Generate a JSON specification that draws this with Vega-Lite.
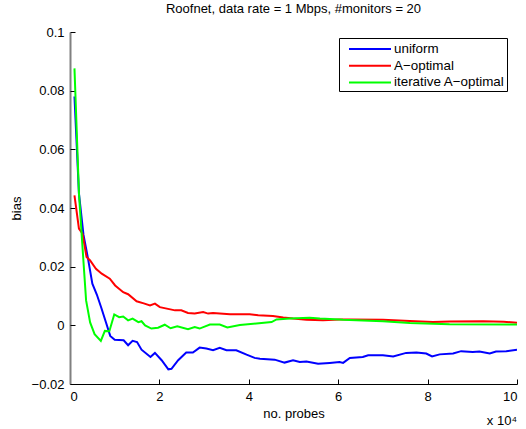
{
  "$schema": "https://vega.github.io/schema/vega-lite/v6.json",
  "autosize": {"type": "none"},
  "padding": {"left": 70, "top": 32, "right": 9, "bottom": 45},
  "width": 447,
  "height": 352,
  "background": "white",
  "title": {"text": "Roofnet, data rate = 1 Mbps, #monitors = 20", "fontSize": 13, "fontWeight": "normal", "font": "Liberation Sans", "color": "black", "offset": 10},
  "config": {
    "view": {"stroke": null},
    "font": "Liberation Sans",
    "axis": {"grid": false, "labelFont": "Liberation Sans", "titleFont": "Liberation Sans", "labelFontSize": 13, "titleFontSize": 13, "titleFontWeight": "normal", "labelColor": "black", "titleColor": "black", "tickColor": "black"}
  },
  "resolve": {"axis": {"x": "independent", "y": "independent"}},
  "datasets": {
    "series": [
      {"method": "uniform", "x": 0.1, "y": 0.078},
      {"method": "uniform", "x": 0.2, "y": 0.045},
      {"method": "uniform", "x": 0.3, "y": 0.031},
      {"method": "uniform", "x": 0.4, "y": 0.023},
      {"method": "uniform", "x": 0.5, "y": 0.0142},
      {"method": "uniform", "x": 0.6, "y": 0.0105},
      {"method": "uniform", "x": 0.7, "y": 0.006},
      {"method": "uniform", "x": 0.8, "y": 0.0012},
      {"method": "uniform", "x": 0.9, "y": -0.0036},
      {"method": "uniform", "x": 1.0, "y": -0.0049},
      {"method": "uniform", "x": 1.2, "y": -0.0051},
      {"method": "uniform", "x": 1.3, "y": -0.0068},
      {"method": "uniform", "x": 1.4, "y": -0.0053},
      {"method": "uniform", "x": 1.5, "y": -0.0057},
      {"method": "uniform", "x": 1.6, "y": -0.0083},
      {"method": "uniform", "x": 1.8, "y": -0.0108},
      {"method": "uniform", "x": 1.9, "y": -0.0094},
      {"method": "uniform", "x": 2.05, "y": -0.0119},
      {"method": "uniform", "x": 2.2, "y": -0.015},
      {"method": "uniform", "x": 2.27, "y": -0.0148},
      {"method": "uniform", "x": 2.42, "y": -0.0119},
      {"method": "uniform", "x": 2.6, "y": -0.0093},
      {"method": "uniform", "x": 2.75, "y": -0.0093},
      {"method": "uniform", "x": 2.9, "y": -0.0076},
      {"method": "uniform", "x": 3.05, "y": -0.0079},
      {"method": "uniform", "x": 3.2, "y": -0.0085},
      {"method": "uniform", "x": 3.35, "y": -0.0077},
      {"method": "uniform", "x": 3.5, "y": -0.0085},
      {"method": "uniform", "x": 3.72, "y": -0.0085},
      {"method": "uniform", "x": 3.95, "y": -0.01},
      {"method": "uniform", "x": 4.13, "y": -0.0111},
      {"method": "uniform", "x": 4.25, "y": -0.0114},
      {"method": "uniform", "x": 4.58, "y": -0.0117},
      {"method": "uniform", "x": 4.8, "y": -0.0127},
      {"method": "uniform", "x": 4.99, "y": -0.0119},
      {"method": "uniform", "x": 5.14, "y": -0.0125},
      {"method": "uniform", "x": 5.29, "y": -0.0123},
      {"method": "uniform", "x": 5.55, "y": -0.0131},
      {"method": "uniform", "x": 5.81, "y": -0.0128},
      {"method": "uniform", "x": 6.03, "y": -0.0125},
      {"method": "uniform", "x": 6.11, "y": -0.0128},
      {"method": "uniform", "x": 6.26, "y": -0.0111},
      {"method": "uniform", "x": 6.55, "y": -0.0108},
      {"method": "uniform", "x": 6.67, "y": -0.0102},
      {"method": "uniform", "x": 7.0, "y": -0.0102},
      {"method": "uniform", "x": 7.23, "y": -0.0106},
      {"method": "uniform", "x": 7.52, "y": -0.0094},
      {"method": "uniform", "x": 7.75, "y": -0.0093},
      {"method": "uniform", "x": 7.97, "y": -0.0096},
      {"method": "uniform", "x": 8.1, "y": -0.0106},
      {"method": "uniform", "x": 8.27, "y": -0.0099},
      {"method": "uniform", "x": 8.57, "y": -0.0096},
      {"method": "uniform", "x": 8.75, "y": -0.0088},
      {"method": "uniform", "x": 9.01, "y": -0.0091},
      {"method": "uniform", "x": 9.16, "y": -0.0089},
      {"method": "uniform", "x": 9.39, "y": -0.0096},
      {"method": "uniform", "x": 9.53, "y": -0.0089},
      {"method": "uniform", "x": 9.76, "y": -0.0088},
      {"method": "uniform", "x": 10.0, "y": -0.0083},
      {"method": "A−optimal", "x": 0.1, "y": 0.0443},
      {"method": "A−optimal", "x": 0.2, "y": 0.033},
      {"method": "A−optimal", "x": 0.28, "y": 0.0312},
      {"method": "A−optimal", "x": 0.37, "y": 0.0233},
      {"method": "A−optimal", "x": 0.45, "y": 0.0221},
      {"method": "A−optimal", "x": 0.58, "y": 0.0193},
      {"method": "A−optimal", "x": 0.71, "y": 0.0176},
      {"method": "A−optimal", "x": 0.89, "y": 0.0159},
      {"method": "A−optimal", "x": 1.01, "y": 0.0136},
      {"method": "A−optimal", "x": 1.19, "y": 0.0113},
      {"method": "A−optimal", "x": 1.3, "y": 0.0106},
      {"method": "A−optimal", "x": 1.49, "y": 0.0082},
      {"method": "A−optimal", "x": 1.65, "y": 0.0075},
      {"method": "A−optimal", "x": 1.79, "y": 0.0068},
      {"method": "A−optimal", "x": 1.9, "y": 0.0074},
      {"method": "A−optimal", "x": 2.01, "y": 0.0062},
      {"method": "A−optimal", "x": 2.35, "y": 0.0051},
      {"method": "A−optimal", "x": 2.49, "y": 0.0051},
      {"method": "A−optimal", "x": 2.64, "y": 0.0042},
      {"method": "A−optimal", "x": 2.79, "y": 0.004},
      {"method": "A−optimal", "x": 2.98, "y": 0.0045},
      {"method": "A−optimal", "x": 3.09, "y": 0.004},
      {"method": "A−optimal", "x": 3.2, "y": 0.0042},
      {"method": "A−optimal", "x": 3.58, "y": 0.0038},
      {"method": "A−optimal", "x": 4.02, "y": 0.0038},
      {"method": "A−optimal", "x": 4.21, "y": 0.0034},
      {"method": "A−optimal", "x": 4.54, "y": 0.0032},
      {"method": "A−optimal", "x": 4.77, "y": 0.0027},
      {"method": "A−optimal", "x": 4.99, "y": 0.0023},
      {"method": "A−optimal", "x": 5.29, "y": 0.0019},
      {"method": "A−optimal", "x": 5.66, "y": 0.0017},
      {"method": "A−optimal", "x": 6.03, "y": 0.002},
      {"method": "A−optimal", "x": 6.26, "y": 0.002},
      {"method": "A−optimal", "x": 7.0, "y": 0.0019},
      {"method": "A−optimal", "x": 7.6, "y": 0.0015},
      {"method": "A−optimal", "x": 8.12, "y": 0.0011},
      {"method": "A−optimal", "x": 8.5, "y": 0.0013},
      {"method": "A−optimal", "x": 9.24, "y": 0.0014},
      {"method": "A−optimal", "x": 9.7, "y": 0.0012},
      {"method": "A−optimal", "x": 10.0, "y": 0.0009},
      {"method": "iterative A−optimal", "x": 0.1, "y": 0.0876},
      {"method": "iterative A−optimal", "x": 0.2, "y": 0.045},
      {"method": "iterative A−optimal", "x": 0.3, "y": 0.022},
      {"method": "iterative A−optimal", "x": 0.36, "y": 0.0085},
      {"method": "iterative A−optimal", "x": 0.45, "y": 0.001},
      {"method": "iterative A−optimal", "x": 0.55, "y": -0.003},
      {"method": "iterative A−optimal", "x": 0.69, "y": -0.0053},
      {"method": "iterative A−optimal", "x": 0.78, "y": -0.0019},
      {"method": "iterative A−optimal", "x": 0.88, "y": -0.002},
      {"method": "iterative A−optimal", "x": 0.99, "y": 0.0037},
      {"method": "iterative A−optimal", "x": 1.1, "y": 0.0028},
      {"method": "iterative A−optimal", "x": 1.19, "y": 0.003},
      {"method": "iterative A−optimal", "x": 1.3, "y": 0.0017},
      {"method": "iterative A−optimal", "x": 1.4, "y": 0.0023},
      {"method": "iterative A−optimal", "x": 1.53, "y": 0.0011},
      {"method": "iterative A−optimal", "x": 1.6, "y": 0.0014},
      {"method": "iterative A−optimal", "x": 1.68, "y": 0.0},
      {"method": "iterative A−optimal", "x": 1.82, "y": -0.0011},
      {"method": "iterative A−optimal", "x": 1.97, "y": -0.0008},
      {"method": "iterative A−optimal", "x": 2.12, "y": 0.0002},
      {"method": "iterative A−optimal", "x": 2.25, "y": -0.001},
      {"method": "iterative A−optimal", "x": 2.4, "y": -0.0003},
      {"method": "iterative A−optimal", "x": 2.64, "y": -0.0013},
      {"method": "iterative A−optimal", "x": 2.79, "y": -0.0006},
      {"method": "iterative A−optimal", "x": 2.9, "y": -0.0011},
      {"method": "iterative A−optimal", "x": 3.13, "y": 0.0003},
      {"method": "iterative A−optimal", "x": 3.35, "y": 0.0003},
      {"method": "iterative A−optimal", "x": 3.52, "y": -0.0007},
      {"method": "iterative A−optimal", "x": 3.8, "y": 0.0001},
      {"method": "iterative A−optimal", "x": 4.17, "y": 0.0006},
      {"method": "iterative A−optimal", "x": 4.51, "y": 0.0011},
      {"method": "iterative A−optimal", "x": 4.62, "y": 0.002},
      {"method": "iterative A−optimal", "x": 4.92, "y": 0.0023},
      {"method": "iterative A−optimal", "x": 5.36, "y": 0.0026},
      {"method": "iterative A−optimal", "x": 5.59, "y": 0.0023},
      {"method": "iterative A−optimal", "x": 6.03, "y": 0.002},
      {"method": "iterative A−optimal", "x": 6.11, "y": 0.0019},
      {"method": "iterative A−optimal", "x": 7.0, "y": 0.0014},
      {"method": "iterative A−optimal", "x": 7.6, "y": 0.0008},
      {"method": "iterative A−optimal", "x": 8.49, "y": 0.0004},
      {"method": "iterative A−optimal", "x": 10.0, "y": 0.0003}
    ]
  },
  "layer": [
    {
      "mark": {"type": "rule", "strokeDash": [1, 5], "color": "black", "strokeWidth": 1},
      "encoding": {"y": {"datum": 0, "type": "quantitative", "scale": {"domain": [-0.02, 0.1], "nice": false, "zero": false}, "axis": null}}
    },
    {
      "data": {"name": "series"},
      "mark": {"type": "line", "strokeWidth": 2, "clip": true},
      "encoding": {
        "x": {"field": "x", "type": "quantitative", "scale": {"domain": [0, 10], "nice": false, "zero": false},
              "axis": {"values": [0, 2, 4, 6, 8, 10], "format": "d", "title": "no. probes", "domainColor": "black", "domainWidth": 1, "ticks": false, "labelPadding": 6, "titlePadding": 4}},
        "y": {"field": "y", "type": "quantitative", "scale": {"domain": [-0.02, 0.1], "nice": false, "zero": false},
              "axis": {"values": [-0.02, 0, 0.02, 0.04, 0.06, 0.08, 0.1], "format": "~g", "title": "bias", "domainColor": "#808080", "domainWidth": 2, "ticks": false, "labelPadding": 6, "titlePadding": 8}},
        "color": {"field": "method", "type": "nominal",
                  "scale": {"domain": ["uniform", "A−optimal", "iterative A−optimal"], "range": ["#0000ff", "#ff0000", "#00ff00"]},
                  "legend": {"title": null, "orient": "none", "legendX": 269, "legendY": 6, "padding": 2, "strokeColor": "black", "fillColor": "white",
                             "symbolType": "M-0.125,0H5.125", "symbolSize": 256, "symbolStrokeWidth": 2, "labelFontSize": 13.4, "labelFont": "Liberation Sans",
                             "labelColor": "black", "labelOffset": 35, "rowPadding": 0.7}},
        "order": {"field": "x", "type": "quantitative"}
      }
    },
    {
      "data": {"values": [{}]},
      "mark": {"type": "text", "text": "x 10⁴", "align": "right", "baseline": "alphabetic", "dy": 41, "fontSize": 13, "font": "Liberation Sans", "color": "black"},
      "encoding": {
        "x": {"datum": 10, "type": "quantitative",
              "axis": {"orient": "top", "offset": -352, "values": [0, 2, 4, 6, 8, 10], "labels": false, "domain": false, "title": null, "ticks": true, "tickSize": 5, "tickColor": "black", "tickWidth": 1}},
        "y": {"datum": -0.02, "type": "quantitative",
              "axis": {"orient": "right", "offset": -447, "values": [-0.02, 0, 0.02, 0.04, 0.06, 0.08, 0.1], "labels": false, "domain": false, "title": null, "ticks": true, "tickSize": 5, "tickColor": "black", "tickWidth": 1}}
      }
    }
  ]
}
